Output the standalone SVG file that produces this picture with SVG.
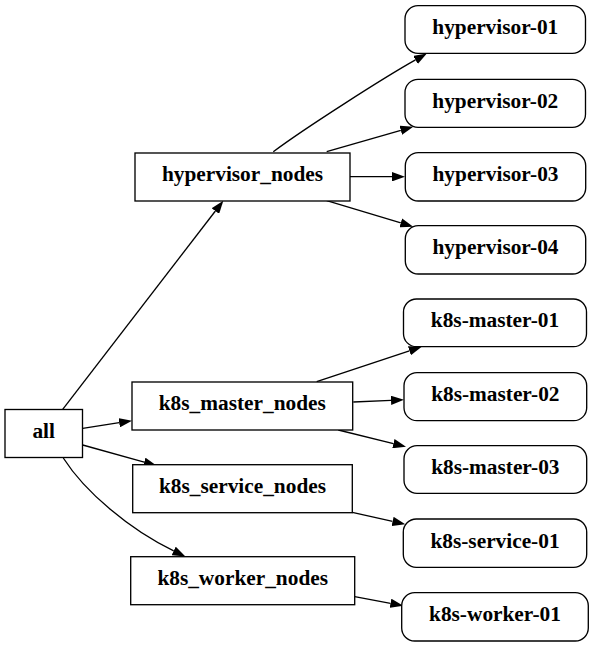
<svg xmlns="http://www.w3.org/2000/svg" width="593" height="647" viewBox="0 0 593 647">
<defs>
<style>
.n{fill:#fff;stroke:#000;stroke-width:1.33}
.t{font-family:"Liberation Serif","Times New Roman",serif;font-weight:bold;font-size:21.33px;text-anchor:middle;fill:#000}
.e{fill:none;stroke:#000;stroke-width:1.33}
</style>
<marker id="ah" viewBox="0 0 13 9.4" refX="0" refY="4.7" markerWidth="13" markerHeight="9.4" markerUnits="userSpaceOnUse" orient="auto">
<path d="M0,0 L13,4.7 L0,9.4 z" fill="#000"/>
</marker>
</defs>
<rect width="593" height="647" fill="#fff"/>
<g id="edges">
<path class="e" marker-end="url(#ah)" d="M62.7,409.3 L215.4,211"/>
<path class="e" marker-end="url(#ah)" d="M82.7,428.3 L119.2,422.7"/>
<path class="e" marker-end="url(#ah)" d="M82.7,445 L144.2,462.2"/>
<path class="e" marker-end="url(#ah)" d="M63.3,458 C85,492 130,530 173.7,550.9"/>
<path class="e" marker-end="url(#ah)" d="M273.3,151.7 C305,128 385,77 415.5,59.9"/>
<path class="e" marker-end="url(#ah)" d="M326.7,151.7 L400.8,130.3"/>
<path class="e" marker-end="url(#ah)" d="M350,176.7 L392,176.7"/>
<path class="e" marker-end="url(#ah)" d="M326.7,200.7 L400.8,222.9"/>
<path class="e" marker-end="url(#ah)" d="M316.7,381.7 L409.4,350.8"/>
<path class="e" marker-end="url(#ah)" d="M353.3,402 L391,400.3"/>
<path class="e" marker-end="url(#ah)" d="M338.3,430 L393.4,443.6"/>
<path class="e" marker-end="url(#ah)" d="M352.3,512.3 L392.6,521.4"/>
<path class="e" marker-end="url(#ah)" d="M354.7,596.7 L390.5,603.3"/>
</g>
<g id="all"><rect class="n" x="5" y="409.5" width="77.5" height="48"/><text class="t" x="43.7" y="438.3">all</text></g>
<g id="hypervisor_nodes"><rect class="n" x="135" y="153" width="215" height="48"/><text class="t" x="242.5" y="181.3">hypervisor_nodes</text></g>
<g id="k8s_master_nodes"><rect class="n" x="132" y="382" width="220.7" height="48"/><text class="t" x="242.3" y="410.3">k8s_master_nodes</text></g>
<g id="k8s_service_nodes"><rect class="n" x="132.7" y="464.7" width="219.6" height="48"/><text class="t" x="242.5" y="493">k8s_service_nodes</text></g>
<g id="k8s_worker_nodes"><rect class="n" x="130.7" y="556.7" width="224" height="48"/><text class="t" x="242.7" y="585">k8s_worker_nodes</text></g>
<g id="hypervisor-01"><rect class="n" x="405" y="5.7" width="180.5" height="47.6" rx="13" ry="13"/><text class="t" x="495.3" y="33.8">hypervisor-01</text></g>
<g id="hypervisor-02"><rect class="n" x="405" y="79.3" width="180.5" height="48" rx="13" ry="13"/><text class="t" x="495.3" y="107.6">hypervisor-02</text></g>
<g id="hypervisor-03"><rect class="n" x="405.3" y="152.7" width="180.4" height="48.3" rx="13" ry="13"/><text class="t" x="495.5" y="181.1">hypervisor-03</text></g>
<g id="hypervisor-04"><rect class="n" x="405.3" y="225.7" width="180.4" height="48.3" rx="13" ry="13"/><text class="t" x="495.5" y="254.1">hypervisor-04</text></g>
<g id="k8s-master-01"><rect class="n" x="403.5" y="299" width="183" height="47.7" rx="13" ry="13"/><text class="t" x="495" y="327.1">k8s-master-01</text></g>
<g id="k8s-master-02"><rect class="n" x="404" y="372.7" width="182.7" height="48" rx="13" ry="13"/><text class="t" x="495.3" y="401">k8s-master-02</text></g>
<g id="k8s-master-03"><rect class="n" x="404" y="445.7" width="182.7" height="47.6" rx="13" ry="13"/><text class="t" x="495.3" y="473.8">k8s-master-03</text></g>
<g id="k8s-service-01"><rect class="n" x="403.3" y="519" width="183.4" height="48.3" rx="13" ry="13"/><text class="t" x="495" y="547.5">k8s-service-01</text></g>
<g id="k8s-worker-01"><rect class="n" x="401.7" y="592.7" width="186.6" height="48.3" rx="13" ry="13"/><text class="t" x="495" y="621.1">k8s-worker-01</text></g>
</svg>
